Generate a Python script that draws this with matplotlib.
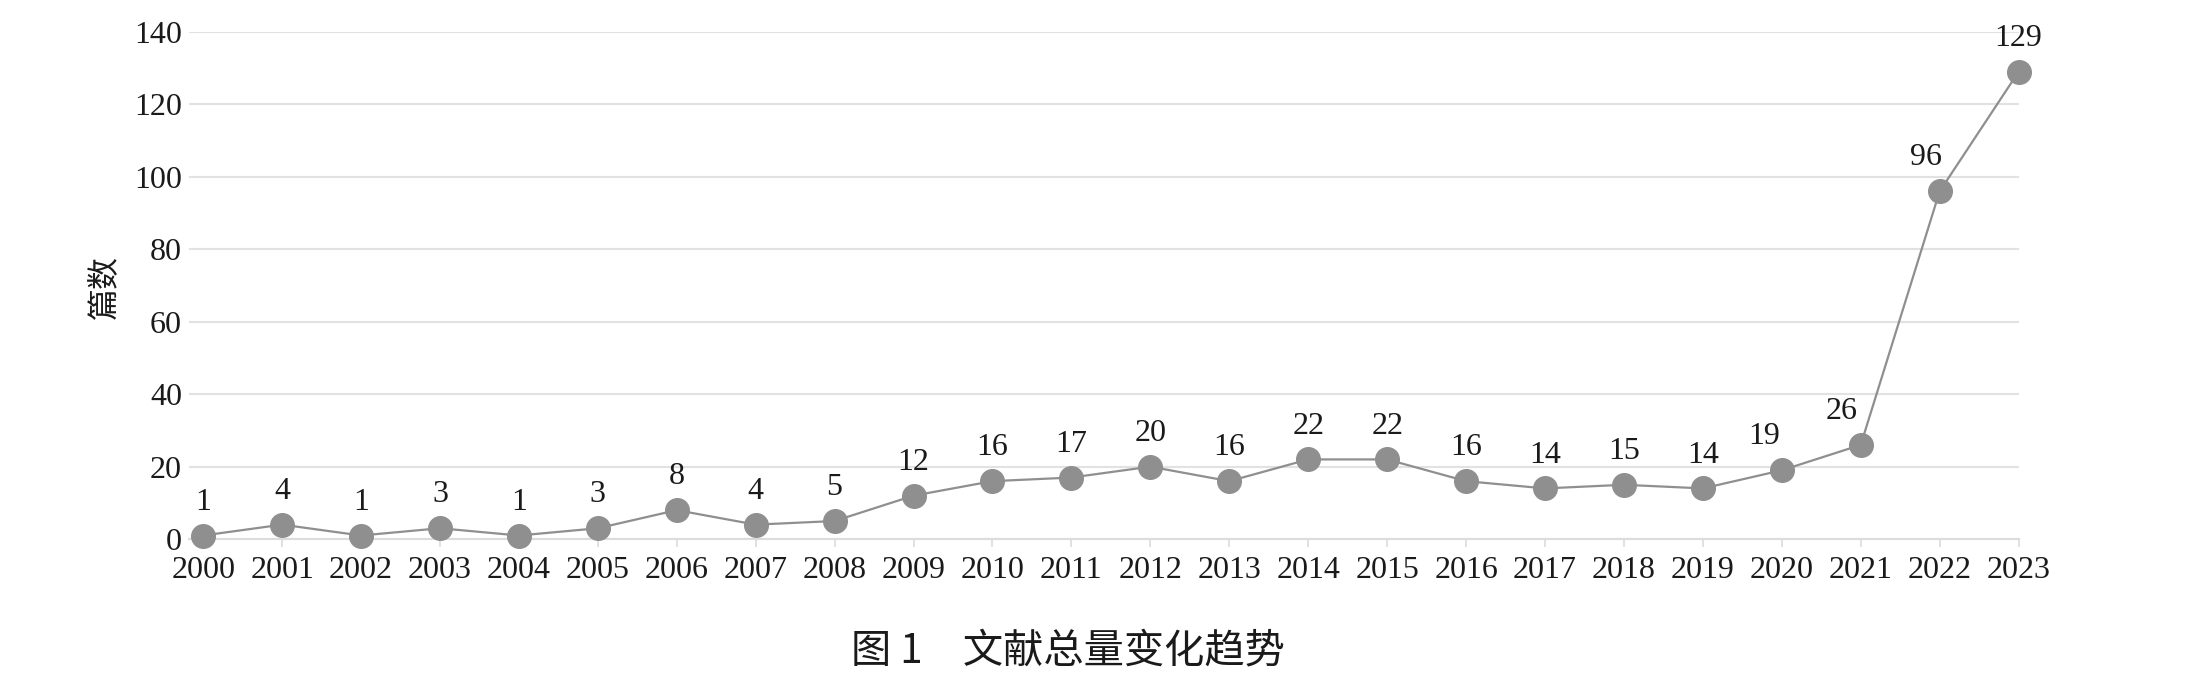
import matplotlib.pyplot as plt

# data
years = [str(y) for y in range(2000, 2024)]
counts = [1, 4, 1, 3, 1, 3, 8, 4, 5, 12, 16, 17, 20, 16, 22, 22, 16, 14, 15, 14, 19, 26, 96, 129]
y_ticks = [0, 20, 40, 60, 80, 100, 120, 140]

# labels that were nudged left of the point in the original (in points)
label_dx = {20: -13, 21: -14, 22: -10}

serif = 'Liberation Serif'
cjk = ['Noto Sans CJK SC', 'DejaVu Sans']

fig = plt.figure(figsize=(21.87, 6.79), dpi=100)
ax = fig.add_axes([0.0864, 0.206, 0.8366, 0.747])

x = list(range(len(years)))
ax.plot(x, counts, color='#8f8f8f', linewidth=1.6, marker='o', markersize=17,
        markerfacecolor='#8f8f8f', markeredgecolor='#8f8f8f', clip_on=False, zorder=3)

for i, v in enumerate(counts):
    ax.annotate(str(v), (i, v), xytext=(label_dx.get(i, 0), 24), textcoords='offset points',
                ha='center', va='center', fontsize=23, family=serif, color='#1a1a1a')

ax.set_xlim(-0.18, len(years) - 1)
ax.set_ylim(0, 140)
ax.set_xticks(x)
ax.set_xticklabels(years, fontsize=23, family=serif, color='#1a1a1a')
ax.set_yticks(y_ticks)
ax.set_yticklabels([str(t) for t in y_ticks], fontsize=23, family=serif, color='#1a1a1a')

ax.grid(axis='y', color='#e2e2e2', linewidth=1.5)
ax.set_axisbelow(True)
for s in ['top', 'right', 'left']:
    ax.spines[s].set_visible(False)
ax.spines['bottom'].set_color('#dcdcdc')
ax.spines['bottom'].set_linewidth(1.5)
ax.tick_params(axis='x', length=6, width=1.2, color='#dcdcdc', pad=6)
ax.tick_params(axis='y', length=0, pad=5)

fig.text(105 / 2187, 1 - 287 / 679, '篇数', rotation=90, ha='center', va='center',
         fontsize=23, family=cjk, color='#1a1a1a')
fig.text(1068 / 2187, 1 - 651 / 679, '图 1　文献总量变化趋势', ha='center', va='center',
         fontsize=29, family=cjk, color='#1a1a1a')

fig.savefig('out.png', dpi=100)
